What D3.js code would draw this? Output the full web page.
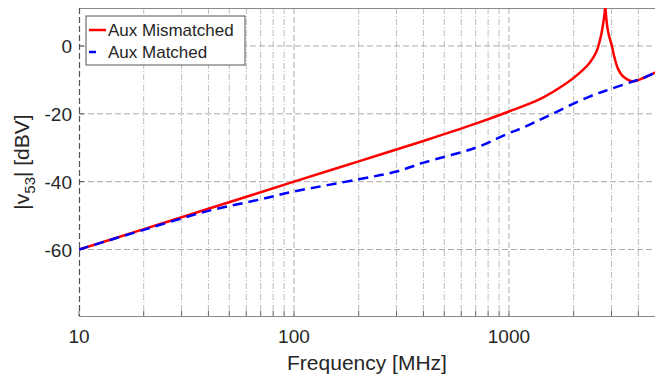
<!DOCTYPE html>
<html>
<head>
<meta charset="utf-8">
<script src="https://cdn.jsdelivr.net/npm/d3@7"></script>
<style>
  body { margin: 0; background: #fff; }
  text { font-family: "Liberation Sans", Arial, sans-serif; fill: #262626; }
</style>
</head>
<body>
<div id="chart"></div>
<script>
// frequencies in MHz, magnitudes in dBV
const mismatchedFreq = [10, 20, 40, 100, 200, 400, 700, 1000, 1400, 1850, 2100, 2370, 2550, 2640, 2700, 2750, 2785, 2806, 2830, 2870, 2920, 2990, 3100, 3210, 3350, 3520, 3760, 4200, 4800];
const mismatchedVal  = [-60, -54, -48, -40, -34, -28, -22.9, -19.3, -15.6, -11, -8.3, -5, -1.8, 1.3, 4, 7, 9.5, 11.5, 9, 5.5, 3, 0.8, -3.5, -6.6, -8.6, -9.7, -10.4, -9.5, -7.8];
const matchedFreq = [10, 20, 40, 70, 100, 200, 300, 400, 700, 1000, 1160, 1500, 2370, 3000, 3760, 4200, 4800];
const matchedVal  = [-60, -54.2, -48.6, -45.2, -42.9, -39.3, -37, -34.4, -30, -25.7, -24.1, -20.8, -14.9, -12.6, -10.5, -9.5, -7.8];
const yTicks = [-60, -40, -20, 0];
const xTicks = [10, 100, 1000];

const W = 655, H = 380;
const margin = {top: 8, right: 0, bottom: 64, left: 79};
const pw = W - margin.left - margin.right, ph = H - margin.top - margin.bottom;

let svg = d3.select("#chart").append("svg")
    .attr("width", W).attr("height", H);

let g = svg.append("g").attr("transform", `translate(${margin.left}, ${margin.top})`);

let x = d3.scaleLog().domain([10, 4780]).range([0, pw]);
let y = d3.scaleLinear().domain([-79.6, 11.2]).range([ph, 0]);

svg.append("defs").append("clipPath").attr("id", "clip")
    .append("rect").attr("width", pw).attr("height", ph);

// minor vertical grid (dash-dot)
let minor = [];
for (let d = 10; d < 10000; d *= 10) {
    for (let k = 2; k <= 9; k++) {
        if (d * k < 4780) minor.push(d * k);
    }
}
g.append("g").selectAll("line").data(minor).enter().append("line")
    .attr("x1", d => x(d)).attr("x2", d => x(d))
    .attr("y1", 0).attr("y2", ph)
    .attr("stroke", "#bdbdbd").attr("stroke-width", 1)
    .attr("stroke-dasharray", "6,2,1,2");

// major grid (dashed)
g.append("g").selectAll("line").data(xTicks.slice(1)).enter().append("line")
    .attr("x1", d => x(d)).attr("x2", d => x(d))
    .attr("y1", 0).attr("y2", ph)
    .attr("stroke", "#aaaaaa").attr("stroke-width", 1)
    .attr("stroke-dasharray", "6,3");
g.append("g").selectAll("line").data(yTicks).enter().append("line")
    .attr("x1", 0).attr("x2", pw)
    .attr("y1", d => y(d)).attr("y2", d => y(d))
    .attr("stroke", "#aaaaaa").attr("stroke-width", 1)
    .attr("stroke-dasharray", "6,3");

// frame
g.append("line").attr("x1", 0).attr("x2", pw).attr("y1", 0.5).attr("y2", 0.5)
    .attr("stroke", "#8a8a8a").attr("stroke-width", 1);
g.append("line").attr("x1", 0).attr("x2", pw).attr("y1", ph + 0.5).attr("y2", ph + 0.5)
    .attr("stroke", "#8a8a8a").attr("stroke-width", 1.2);
g.append("line").attr("x1", 0.5).attr("x2", 0.5).attr("y1", 0).attr("y2", ph)
    .attr("stroke", "#555").attr("stroke-width", 1.2).attr("stroke-dasharray", "6,3");

// ticks
g.append("g").selectAll("line").data(minor.concat(xTicks)).enter().append("line")
    .attr("x1", d => x(d)).attr("x2", d => x(d))
    .attr("y1", ph).attr("y2", ph - 5)
    .attr("stroke", "#666");
g.append("g").selectAll("line").data(yTicks).enter().append("line")
    .attr("x1", 0).attr("x2", 5)
    .attr("y1", d => y(d)).attr("y2", d => y(d))
    .attr("stroke", "#555");

// tick labels
g.append("g").selectAll("text").data(xTicks).enter().append("text")
    .attr("x", d => x(d)).attr("y", ph + 27)
    .style("text-anchor", "middle").style("font-size", "19px")
    .text(d => d);
g.append("g").selectAll("text").data(yTicks).enter().append("text")
    .attr("x", -7).attr("y", d => y(d) + 7)
    .style("text-anchor", "end").style("font-size", "19px")
    .text(d => d);

// curves
let line = d3.line()
    .x(d => x(d[0])).y(d => y(d[1]))
    .curve(d3.curveCatmullRom.alpha(0.5));

let plot = g.append("g").attr("clip-path", "url(#clip)");
plot.append("path")
    .datum(d3.zip(mismatchedFreq, mismatchedVal))
    .attr("fill", "none").attr("stroke", "#ff0000").attr("stroke-width", 2.5)
    .attr("d", line);
plot.append("path")
    .datum(d3.zip(matchedFreq, matchedVal))
    .attr("fill", "none").attr("stroke", "#0000ff").attr("stroke-width", 2.5)
    .attr("stroke-dasharray", "10,6")
    .attr("d", line);

// axis labels
svg.append("text")
    .attr("x", margin.left + pw / 2).attr("y", 370)
    .style("text-anchor", "middle").style("font-size", "21px")
    .text("Frequency [MHz]");

let yl = svg.append("text")
    .attr("transform", `translate(29, ${margin.top + ph / 2}) rotate(-90)`)
    .style("text-anchor", "middle").style("font-size", "21px");
yl.append("tspan").text("|v");
yl.append("tspan").attr("dy", 6).style("font-size", "15px").text("53");
yl.append("tspan").attr("dy", -6).text("| [dBV]");

// legend
let lg = svg.append("g").attr("transform", "translate(86, 16)");
lg.append("rect").attr("width", 159).attr("height", 49)
    .attr("fill", "#fff").attr("stroke", "#555").attr("stroke-width", 1);
lg.append("line").attr("x1", 3).attr("x2", 20).attr("y1", 14).attr("y2", 14)
    .attr("stroke", "#ff0000").attr("stroke-width", 2.5);
lg.append("line").attr("x1", 3).attr("x2", 20).attr("y1", 36).attr("y2", 36)
    .attr("stroke", "#0000ff").attr("stroke-width", 2.5).attr("stroke-dasharray", "7,20");
lg.append("text").attr("x", 22).attr("y", 20).style("font-size", "17px").text("Aux Mismatched");
lg.append("text").attr("x", 22).attr("y", 42).style("font-size", "17px").text("Aux Matched");
</script>
</body>
</html>
